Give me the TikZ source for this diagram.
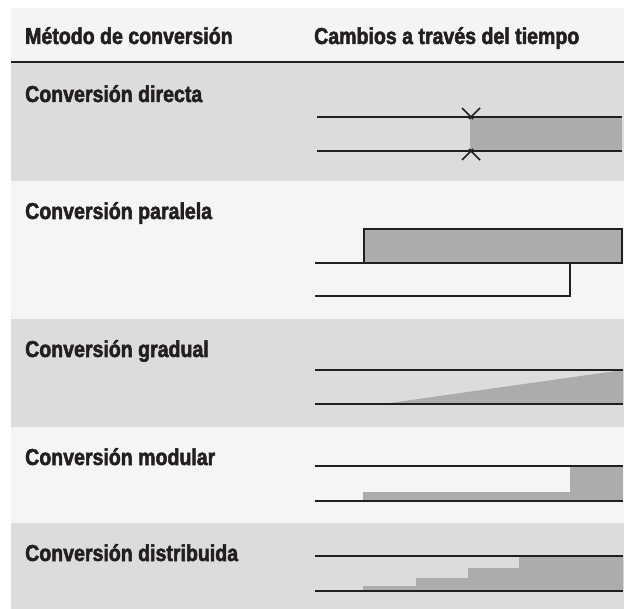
\documentclass[tikz,border=0pt]{standalone}
\usepackage{fontspec}
\newfontfamily\condfont{Liberation Sans}[FakeStretch=0.85, FakeBold=2.2]
\usepackage{tikz}
\usetikzlibrary{positioning, calc}
\definecolor{BandDark}{HTML}{DCDCDC}
\definecolor{BandLight}{HTML}{F5F5F5}
\definecolor{HeadBand}{HTML}{F4F4F4}
\definecolor{FillGray}{HTML}{ACACAC}
\definecolor{InkDark}{HTML}{231F20}

\begin{document}
\begin{tikzpicture}[
                x=1pt, y=-1pt,
                rowlabel/.style={anchor=base west, inner sep=0pt, text=InkDark, font=\fontsize{23}{25}\condfont\bfseries},
                track/.style={draw=InkDark, line width=2pt},
                shade/.style={fill=FillGray},
                cutmark/.style={draw=InkDark, line width=1.5pt}
            ]
                \useasboundingbox (0,0) rectangle (624,609);
                \fill[white] (0,0) rectangle (624,609);

                % Bands
                \fill[HeadBand] (11,8) rectangle (624,62);
                \fill[BandDark] (11,63) rectangle (624,181);
                \fill[BandLight] (11,181) rectangle (624,319);
                \fill[BandDark] (11,319) rectangle (624,427);
                \fill[BandLight] (11,427) rectangle (624,523);
                \fill[BandDark] (11,523) rectangle (624,609);
                \draw[InkDark, line width=2pt] (11,62) -- (624,62);

                % Header
                \node[rowlabel] (metodo) at (25,44) {Método de conversión};
                \node[rowlabel] (cambios) at (314,44) {Cambios a través del tiempo};

                % Labels
                \node[rowlabel] (directa) at (25,102) {Conversión directa};
                \node[rowlabel] (paralela) at (25,219) {Conversión paralela};
                \node[rowlabel] (gradual) at (25,357) {Conversión gradual};
                \node[rowlabel] (modular) at (25,465) {Conversión modular};
                \node[rowlabel] (distribuida) at (25,561) {Conversión distribuida};

                % Directa
                \fill[shade] (470,117) rectangle (622,151);
                \draw[cutmark] (462,108) -- (473,119) (480,108) -- (469,119);
                \draw[cutmark] (462,160) -- (473,149) (480,160) -- (469,149);
                \draw[track] (317,117) -- (622,117);
                \draw[track] (317,151) -- (622,151);

                % Paralela
                \draw[track, shade] (364,229) rectangle (622,263);
                \draw[track] (315,263) -- (364,263);
                \draw[track] (315,296) -- (570,296) -- (570,263);

                % Gradual
                \fill[shade] (383,404) -- (623,370) -- (623,404) -- cycle;
                \draw[track] (315,370) -- (623,370);
                \draw[track] (315,404) -- (623,404);

                % Modular
                \fill[shade] (363,492) rectangle (623,501);
                \fill[shade] (570,466) rectangle (623,501);
                \draw[track] (315,466) -- (623,466);
                \draw[track] (315,501) -- (623,501);

                % Distribuida
                \fill[shade] (363,591) -- (363,586) -- (416,586) -- (416,578) -- (468,578)
                    -- (468,568) -- (519,568) -- (519,556) -- (623,556) -- (623,591) -- cycle;
                \draw[track] (315,556) -- (623,556);
                \draw[track] (315,591) -- (623,591);
            \end{tikzpicture}
\end{document}
